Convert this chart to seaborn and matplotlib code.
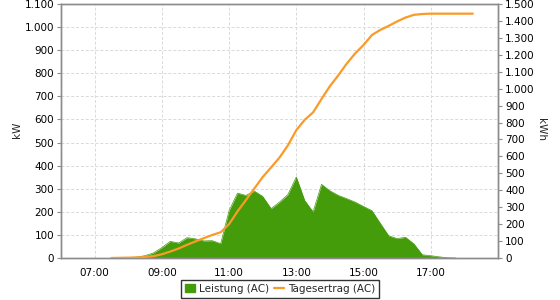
import matplotlib
matplotlib.use("Agg")
import matplotlib.pyplot as plt
import seaborn as sns
import pandas as pd
from matplotlib.ticker import FuncFormatter, FixedLocator
from matplotlib.patches import Patch
from matplotlib.lines import Line2D

# Time stamps (15-min) as strings
power_times = ["07:30", "07:45", "08:00", "08:15", "08:30", "08:45", "09:00", "09:15", "09:30", "09:45",
               "10:00", "10:15", "10:30", "10:45", "11:00", "11:15", "11:30", "11:45", "12:00", "12:15",
               "12:30", "12:45", "13:00", "13:15", "13:30", "13:45", "14:00", "14:15", "14:30", "14:45",
               "15:00", "15:15", "15:30", "15:45", "16:00", "16:15", "16:30", "16:45", "17:00", "17:15",
               "17:30", "17:45"]
power_kw = [0, 1, 2, 4, 10, 22, 45, 72, 65, 88,
            83, 74, 75, 62, 205, 281, 271, 290, 267, 214,
            242, 275, 351, 249, 200, 319, 291, 271, 257, 242,
            223, 205, 150, 96, 84, 90, 61, 14, 10, 5,
            1, 0]

energy_times = ["07:30", "07:45", "08:00", "08:15", "08:30", "08:45", "09:00", "09:15", "09:30", "09:45",
                "10:00", "10:15", "10:30", "10:45", "11:00", "11:15", "11:30", "11:45", "12:00", "12:15",
                "12:30", "12:45", "13:00", "13:15", "13:30", "13:45", "14:00", "14:15", "14:30", "14:45",
                "15:00", "15:15", "15:30", "15:45", "16:00", "16:15", "16:30", "16:45", "17:00", "17:15",
                "17:30", "17:45", "18:00", "18:15"]
energy_kwh = [0, 1, 2, 3, 6, 11, 22, 38, 56, 78,
              98, 117, 136, 152, 200, 275, 342, 410, 478, 535,
              593, 665, 755, 816, 860, 939, 1015, 1079, 1148, 1208,
              1258, 1317, 1347, 1371, 1397, 1420, 1436, 1441, 1443, 1443,
              1443, 1443, 1443, 1443]

x_tick_labels = ["07:00", "09:00", "11:00", "13:00", "15:00", "17:00"]
left_ticks = [0, 100, 200, 300, 400, 500, 600, 700, 800, 900, 1000, 1100]
right_ticks = [0, 100, 200, 300, 400, 500, 600, 700, 800, 900, 1000, 1100, 1200, 1300, 1400, 1500]


def to_hours(s):
    h, m = s.split(":")
    return int(h) + int(m) / 60.0


df_p = pd.DataFrame({"t": [to_hours(s) for s in power_times], "kw": power_kw})
df_e = pd.DataFrame({"t": [to_hours(s) for s in energy_times], "kwh": energy_kwh})

sns.set_style("white")
plt.rcParams["font.family"] = ["DejaVu Sans"]
plt.rcParams["font.size"] = 7.5

GREEN = "#449c0a"
ORANGE = "#fb9a26"
SPINE = "#8c8c8c"

fig = plt.figure(figsize=(5.6, 3.0), dpi=100)
ax = fig.add_axes([61 / 560, 1 - 258 / 300, (498 - 61) / 560, (258 - 4) / 300])

ax.fill_between(df_p["t"], 0, df_p["kw"], color=GREEN, linewidth=0, zorder=2)
sns.lineplot(data=df_p, x="t", y="kw", ax=ax, color=GREEN, linewidth=0.5, zorder=2)

ax.set_xlim(6, 19)
ax.set_ylim(0, 1100)
ax.xaxis.set_major_locator(FixedLocator([to_hours(s) for s in x_tick_labels]))
ax.set_xticklabels(x_tick_labels)
ax.yaxis.set_major_locator(FixedLocator(left_ticks))

fmt = FuncFormatter(lambda v, p: f"{int(v):,}".replace(",", "."))
ax.yaxis.set_major_formatter(fmt)
ax.set_xlabel("")
ax.set_ylabel("kW", va="center")
ax.yaxis.set_label_coords((17 - 61) / 437, (258 - 130) / 254)
ax.grid(True, color="#d9d9d9", linestyle=(0, (3, 2)), linewidth=0.7)
ax.set_axisbelow(True)
for sp in ax.spines.values():
    sp.set_color(SPINE)
    sp.set_linewidth(1.0)
ax.tick_params(axis="both", which="both", direction="out", length=3, width=0.8,
               color=SPINE, labelsize=7.5, labelcolor="black", pad=2)
ax.tick_params(axis="x", pad=4)

ax2 = ax.twinx()
sns.lineplot(data=df_e, x="t", y="kwh", ax=ax2, color=ORANGE, linewidth=1.6, zorder=3)
ax2.set_ylim(0, 1500)
ax2.yaxis.set_major_locator(FixedLocator(right_ticks))
ax2.yaxis.set_major_formatter(fmt)
ax2.set_ylabel("kWh", rotation=-90, va="center")
ax2.yaxis.set_label_coords((541 - 61) / 437, (258 - 130) / 254)
for sp in ax2.spines.values():
    sp.set_color(SPINE)
    sp.set_linewidth(1.0)
ax2.tick_params(axis="y", direction="out", length=3, width=0.8, color=SPINE,
                labelsize=7.5, labelcolor="black", pad=2)
ax2.set_xlabel("")

handles = [Patch(facecolor=GREEN, edgecolor=GREEN), Line2D([], [], color=ORANGE, linewidth=1.6)]
leg = fig.legend(handles, ["Leistung (AC)", "Tagesertrag (AC)"], loc="center",
                 bbox_to_anchor=(280 / 560, 1 - 289 / 300), ncol=2, frameon=True,
                 fancybox=False, edgecolor="black", fontsize=7.5, handlelength=1.0,
                 handleheight=0.8, columnspacing=0.5, handletextpad=0.35, borderpad=0.35,
                 borderaxespad=0.2)
leg.get_frame().set_linewidth(1.0)

fig.savefig("out.png", dpi=100)
